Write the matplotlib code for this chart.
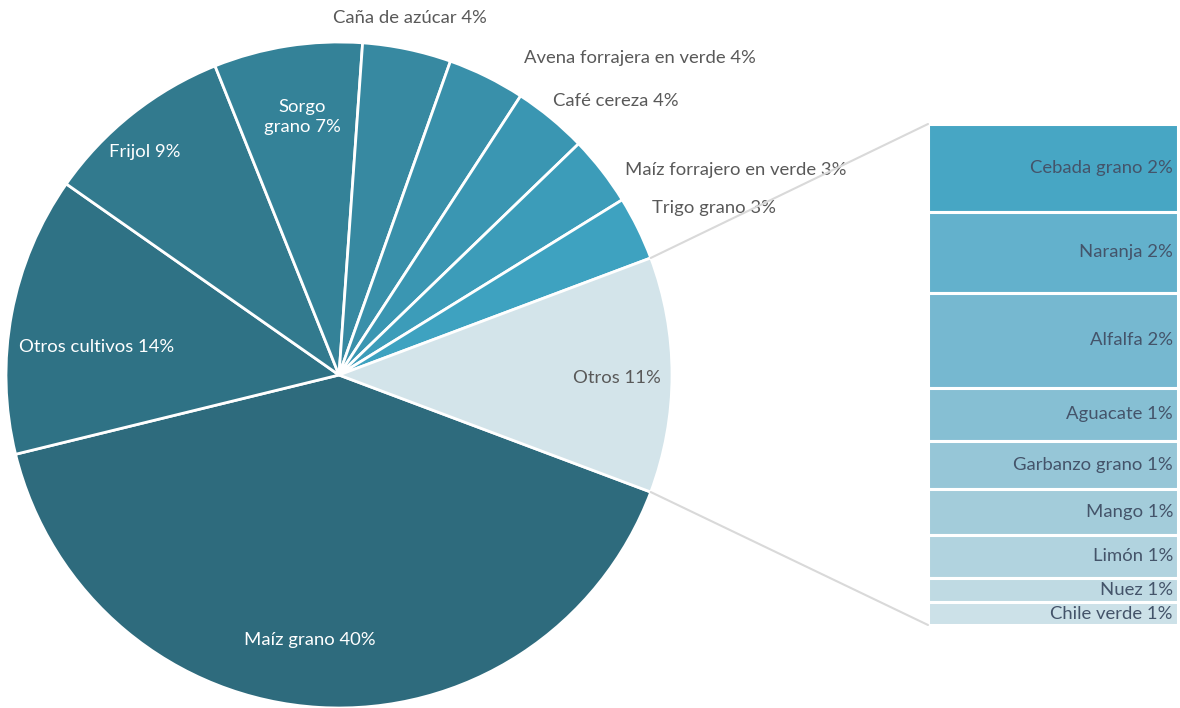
import matplotlib
matplotlib.use("Agg")
import matplotlib.pyplot as plt
from matplotlib.patches import ConnectionPatch
import numpy as np

plt.rcParams['font.family'] = ['Lato', 'DejaVu Sans']

# Main pie: crop share of total (%), clockwise from the bottom slice
main_labels = ["Maíz grano", "Otros cultivos", "Frijol", "Sorgo\ngrano", "Caña de azúcar",
               "Avena forrajera en verde", "Café cereza", "Maíz forrajero en verde", "Trigo grano"]
main_values = [40.45, 13.55, 9.2, 7.2, 4.3, 3.75, 3.6, 3.4, 3.1]
main_colors = ["#2E6B7D", "#2F7285", "#327A8E", "#348298", "#3789A1", "#3990AA",
               "#3A96B2", "#3C9CB9", "#3EA2C0"]

# Breakdown of the "Otros" group (%), top to bottom in the bar
sub_labels = ["Cebada grano", "Naranja", "Alfalfa", "Aguacate", "Garbanzo grano",
              "Mango", "Limón", "Nuez", "Chile verde"]
sub_values = [2.0, 1.85, 2.17, 1.21, 1.09, 1.05, 0.99, 0.55, 0.52]
sub_colors = ["#47A6C4", "#63B1CC", "#76B8D0", "#86BFD3", "#96C6D7",
              "#A3CCDA", "#B1D3DF", "#BFDAE3", "#CCE1E8"]
other_label = "Otros"
other_color = "#D3E4EA"


def pct(v):
    return f"{int(v + 0.5)}%"


W, H = 1180, 708
fig = plt.figure(figsize=(W / 100, H / 100), dpi=100)
fig.patch.set_facecolor("white")

# Pie axes: centre (339, 375) px from top-left, radius 333 px
cx, cy, R = 339, 375, 333
ax = fig.add_axes([(cx - R) / W, (H - cy - R) / H, 2 * R / W, 2 * R / H])
other_value = sum(sub_values)
values = main_values + [other_value]
colors = main_colors + [other_color]
other_deg = other_value / sum(values) * 360
wedges, _ = ax.pie(values, colors=colors, startangle=-other_deg / 2, counterclock=False,
                   wedgeprops=dict(edgecolor="white", linewidth=2.0))
for w in wedges:
    w.set_clip_on(False)
ax.set_xlim(-1, 1)
ax.set_ylim(-1, 1)
ax.set_aspect("equal")
ax.axis("off")

fs = 13.3
grey = "#595959"
# label placement in pie units: (x, y, ha, colour)
label_pos = [
    (-0.087, -0.796, "center", "white"),
    (-0.727, 0.084, "center", "white"),
    (-0.583, 0.670, "center", "white"),
    (-0.111, 0.775, "center", "white"),
    (0.213, 1.072, "center", grey),
    (0.556, 0.952, "left", grey),
    (0.643, 0.823, "left", grey),
    (0.859, 0.616, "left", grey),
    (0.940, 0.502, "left", grey),
]
for lab, v, (x, y, ha, col) in zip(main_labels, main_values, label_pos):
    ax.text(x, y, f"{lab} {pct(v)}", ha=ha, va="center", color=col, fontsize=fs,
            linespacing=1.3, clip_on=False)
ax.text(0.835, -0.009, f"{other_label} {pct(other_value)}", ha="center", va="center",
        color=grey, fontsize=fs)

# Bar of the "Otros" breakdown
bx0, by0, bx1, by1 = 928, 124, 1178, 625
bax = fig.add_axes([bx0 / W, (H - by1) / H, (bx1 - bx0) / W, (by1 - by0) / H])
bottom = 0
for lab, v, col in zip(sub_labels, sub_values, sub_colors):
    bar = bax.bar(0, v, bottom=bottom, width=1.0, color=col, edgecolor="white", linewidth=2.2)
    bar[0].set_clip_on(False)
    bax.text(0.48, bottom + v / 2, f"{lab} {pct(v)}", ha="right", va="center",
             color="#44546A", fontsize=fs)
    bottom += v
bax.set_xlim(-0.5, 0.5)
bax.set_ylim(other_value, 0)
bax.axis("off")

# Connector lines from the "Otros" wedge to the bar
ow = wedges[-1]
for ang, yb in ((ow.theta2, 0), (ow.theta1, other_value)):
    a = np.deg2rad(ang)
    con = ConnectionPatch(xyA=(np.cos(a), np.sin(a)), coordsA=ax.transData,
                          xyB=(-0.5, yb), coordsB=bax.transData,
                          color="#D9D9D9", linewidth=1.5)
    fig.add_artist(con)

fig.savefig("out.png", dpi=100, facecolor="white")
